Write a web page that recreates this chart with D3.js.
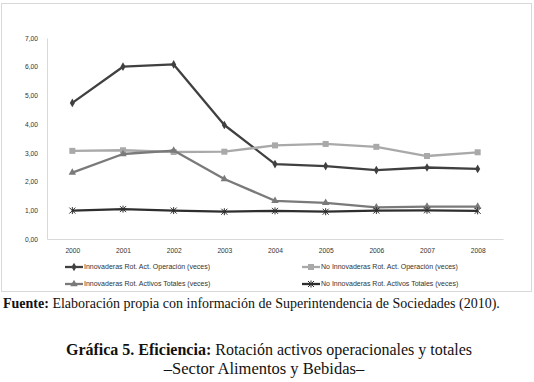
<!DOCTYPE html>
<html>
<head>
<meta charset="utf-8">
<script src="https://cdn.jsdelivr.net/npm/d3@7"></script>
<style>
  body { margin: 0; background: #fff; }
  svg text { font-family: 'Liberation Sans', Arial, sans-serif; }
  .tick text { font-size: 6.7px; fill: #333; }
  .legend text { font-size: 7px; fill: #333; }
  .caption { font-family: 'Liberation Serif', serif !important; fill: #111; }
</style>
</head>
<body>
<svg id="chart" width="534" height="382"></svg>
<script>
const years = ['2000', '2001', '2002', '2003', '2004', '2005', '2006', '2007', '2008'];
const innovOper = [4.74, 6.0, 6.08, 3.97, 2.61, 2.54, 2.4, 2.49, 2.44];
const noInnovOper = [3.07, 3.09, 3.03, 3.04, 3.26, 3.31, 3.21, 2.89, 3.02];
const innovTotal = [2.31, 2.96, 3.08, 2.09, 1.33, 1.26, 1.1, 1.13, 1.13];
const noInnovTotal = [0.99, 1.04, 0.99, 0.95, 0.98, 0.95, 0.99, 1.0, 0.98];
const yTicks = [0, 1, 2, 3, 4, 5, 6, 7];

const series = [
  { name: 'Innovaderas Rot. Act. Operación (veces)', values: innovOper, color: '#404040', marker: 'diamond' },
  { name: 'No Innovaderas Rot. Act. Operación (veces)', values: noInnovOper, color: '#a9a9a9', marker: 'square' },
  { name: 'Innovaderas Rot. Activos Totales (veces)', values: innovTotal, color: '#7a7a7a', marker: 'triangle' },
  { name: 'No Innovaderas Rot. Activos Totales (veces)', values: noInnovTotal, color: '#2e2e2e', marker: 'star' }
];

const margin = { top: 38, left: 47, right: 31, bottom: 143 },
  width = 534,
  height = 382,
  chartWidth = width - margin.left - margin.right,
  chartHeight = height - margin.top - margin.bottom;

const svg = d3.select('#chart');

// chart frame
svg.append('rect')
  .attr('x', 1.5).attr('y', 3.5)
  .attr('width', 530).attr('height', 288)
  .attr('fill', '#fff')
  .attr('stroke', '#d9d9d9');

const g = svg.append('g')
  .attr('transform', 'translate(' + margin.left + ',' + margin.top + ')');

const x = d3.scalePoint().domain(years).range([0, chartWidth]).padding(0.5);
const y = d3.scaleLinear().domain([0, 7]).range([chartHeight, 0]);

const yAxis = g.append('g')
  .call(d3.axisLeft(y).tickValues(yTicks).tickSize(0).tickPadding(9)
    .tickFormat(d => d3.format('.2f')(d).replace('.', ',')));
yAxis.select('.domain').attr('stroke', '#d9d9d9');

const xAxis = g.append('g')
  .attr('transform', 'translate(0,' + chartHeight + ')')
  .call(d3.axisBottom(x).tickSize(0).tickPadding(9));
xAxis.select('.domain').attr('stroke', '#d9d9d9');

const line = d3.line()
  .x((d, i) => x(years[i]))
  .y(d => y(d));

function drawMarker(sel, type, color) {
  if (type === 'diamond') {
    sel.append('path').attr('d', d3.symbol(d3.symbolDiamond, 22)()).attr('fill', color);
  } else if (type === 'square') {
    sel.append('rect').attr('x', -3).attr('y', -3).attr('width', 6).attr('height', 6).attr('fill', color);
  } else if (type === 'triangle') {
    sel.append('path').attr('d', d3.symbol(d3.symbolTriangle, 24)()).attr('fill', color);
  } else {
    sel.append('path').attr('d', 'M-3,-3L3,3M-3,3L3,-3M0,-3.5L0,3.5')
      .attr('stroke', color).attr('stroke-width', 1).attr('fill', 'none');
  }
}

series.forEach(s => {
  g.append('path')
    .attr('d', line(s.values))
    .attr('fill', 'none')
    .attr('stroke', s.color)
    .attr('stroke-width', 2.3)
    .attr('stroke-linejoin', 'round');

  g.selectAll(null)
    .data(s.values)
    .enter()
    .append('g')
    .attr('transform', (d, i) => 'translate(' + x(years[i]) + ',' + y(d) + ')')
    .each(function() { drawMarker(d3.select(this), s.marker, s.color); });
});

// legend
const legendPos = [[65, 267], [302, 267], [65, 284], [302, 284]];
const legend = svg.append('g').attr('class', 'legend');
series.forEach((s, i) => {
  const lg = legend.append('g')
    .attr('transform', 'translate(' + legendPos[i][0] + ',' + legendPos[i][1] + ')');
  lg.append('line').attr('x1', 0).attr('x2', 18).attr('y1', 0).attr('y2', 0)
    .attr('stroke', s.color).attr('stroke-width', 2.3);
  drawMarker(lg.append('g').attr('transform', 'translate(9,0)'), s.marker, s.color);
  lg.append('text').attr('x', 19).attr('y', 2.4).text(s.name);
});

// captions
const fuente = svg.append('text')
  .attr('class', 'caption')
  .attr('x', 3).attr('y', 308)
  .style('font-size', '14px');
fuente.append('tspan').style('font-weight', 'bold').text('Fuente:');
fuente.append('tspan').text(' Elaboración propia con información de Superintendencia de Sociedades (2010).');

const title = svg.append('text')
  .attr('class', 'caption')
  .attr('x', 269).attr('y', 355)
  .attr('text-anchor', 'middle')
  .style('font-size', '16px');
title.append('tspan').style('font-weight', 'bold').text('Gráfica 5. Eficiencia:');
title.append('tspan').text(' Rotación activos operacionales y totales');

svg.append('text')
  .attr('class', 'caption')
  .attr('x', 264).attr('y', 374)
  .attr('text-anchor', 'middle')
  .style('font-size', '16.5px')
  .text('–Sector Alimentos y Bebidas–');
</script>
</body>
</html>
